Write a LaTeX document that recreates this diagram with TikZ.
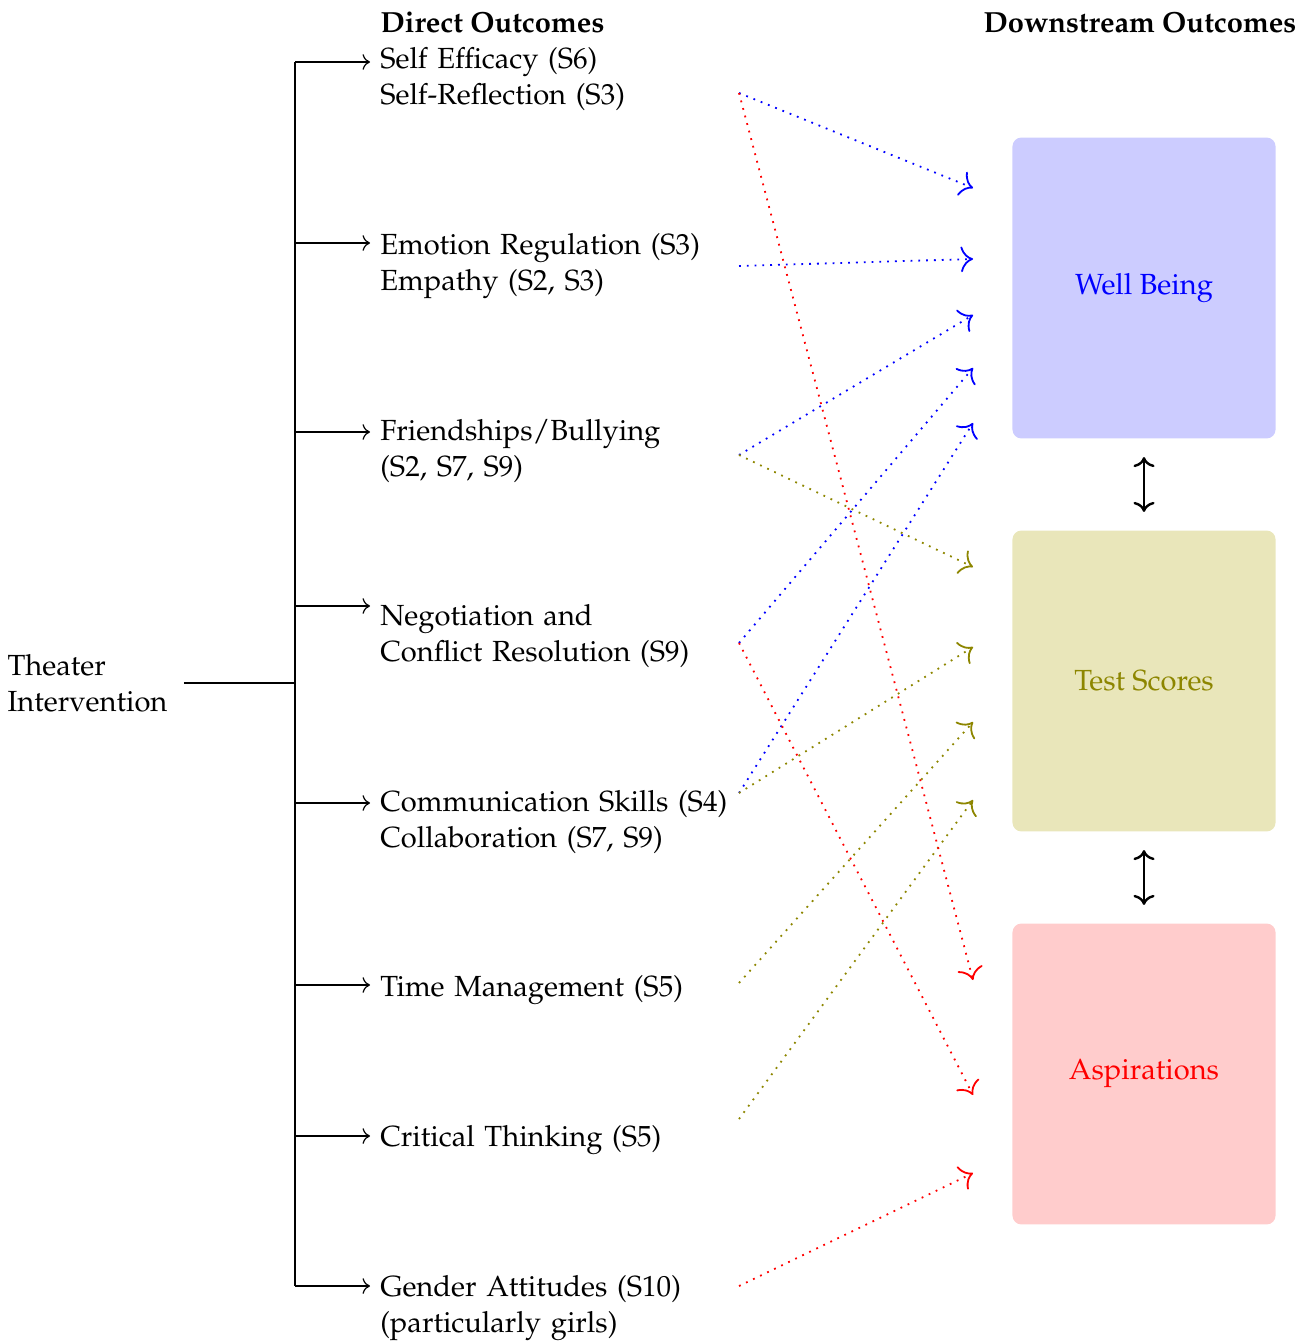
\documentclass[tikz,border=0pt]{standalone}
\usepackage[T1]{fontenc}
\usepackage{mathpazo}
\usepackage[dvipsnames]{xcolor}
\usepackage{tikz}
\usetikzlibrary{arrows.meta}

\begin{document}
\fontsize{9.7}{12}\selectfont
\begin{tikzpicture}[x=0.3333pt, y=-0.3333pt,
    branch/.style={->},
    link/.style={-{To[scale=1.4]}, semithick, dotted},
    outcome/.style={anchor=mid west, align=left, text width=130pt},
    goal/.style={rounded corners=3pt, minimum width=87.7pt, minimum height=100.3pt}]
    \useasboundingbox (0, 0) rectangle (1315, 1342);

    % column headers
    \node[anchor=west, inner xsep=0pt, font=\bfseries] (dhead) at (380, 22) {Direct Outcomes};
    \node[font=\bfseries] (shead) at (1140, 22) {Downstream Outcomes};

    % intervention and trunk
    \node[anchor=west, align=left, outer xsep=2.3pt] (ti) at (-9, 683) {Theater\\Intervention};
    \coordinate (top) at (295, 62);
    \coordinate (bot) at (295, 1286);
    \draw[thick] (ti.east) -- (top |- ti.east);
    \draw[thick] (top) -- (bot);

    % direct outcomes
    \node[outcome] (se) at (370, 62)   {Self Efficacy (S6)\\Self-Reflection (S3)};
    \node[outcome] (er) at (370, 248)  {Emotion Regulation (S3)\\Empathy (S2, S3)};
    \node[outcome] (fb) at (370, 434)  {Friendships/Bullying\\(S2, S7, S9)};
    \node[outcome] (nc) at (370, 619)  {Negotiation and\\Conflict Resolution (S9)};
    \node[outcome] (cs) at (370, 805)  {Communication Skills (S4)\\Collaboration (S7, S9)};
    \node[outcome] (tm) at (370, 990)  {Time Management (S5)};
    \node[outcome] (ct) at (370, 1140) {Critical Thinking (S5)};
    \node[outcome] (ga) at (370, 1290) {Gender Attitudes (S10)\\(particularly girls)};

    % branch ends
    \coordinate (se-in) at (370, 62);
    \coordinate (er-in) at (370, 243);
    \coordinate (fb-in) at (370, 432);
    \coordinate (nc-in) at (370, 606);
    \coordinate (cs-in) at (370, 803);
    \coordinate (tm-in) at (370, 985);
    \coordinate (ct-in) at (370, 1136);
    \coordinate (ga-in) at (370, 1286);

    % branches from trunk
    \draw[branch] (top |- se-in) -- (se-in);
    \draw[branch] (top |- er-in) -- (er-in);
    \draw[branch] (top |- fb-in) -- (fb-in);
    \draw[branch] (top |- nc-in) -- (nc-in);
    \draw[branch] (top |- cs-in) -- (cs-in);
    \draw[branch] (top |- tm-in) -- (tm-in);
    \draw[branch] (top |- ct-in) -- (ct-in);
    \draw[branch] (top |- ga-in) -- (ga-in);

    % downstream outcomes
    \node[goal, fill=blue!20, text=blue] (wb) at (1144, 288) {Well Being};
    \node[goal, fill=olive!20, text=olive] (ts) at (1144, 681) {Test Scores};
    \node[goal, fill=red!20, text=red] (asp) at (1144, 1074) {Aspirations};
    \draw[<->, thick, shorten <=6pt, shorten >=6pt] (wb) -- (ts);
    \draw[<->, thick, shorten <=6pt, shorten >=6pt] (ts) -- (asp);

    % link ends
    \coordinate (se-o) at (739, 93);
    \coordinate (er-o) at (739, 266);
    \coordinate (fb-o) at (739, 455);
    \coordinate (nc-o) at (739, 643);
    \coordinate (cs-o) at (739, 793);
    \coordinate (tm-o) at (739, 983);
    \coordinate (ct-o) at (739, 1119);
    \coordinate (ga-o) at (739, 1286);
    \coordinate (wb-1) at (973, 188);
    \coordinate (wb-2) at (973, 259);
    \coordinate (wb-3) at (973, 315);
    \coordinate (wb-4) at (973, 368);
    \coordinate (wb-5) at (973, 423);
    \coordinate (ts-1) at (973, 567);
    \coordinate (ts-2) at (973, 647);
    \coordinate (ts-3) at (973, 722);
    \coordinate (ts-4) at (973, 800);
    \coordinate (asp-1) at (973, 980);
    \coordinate (asp-2) at (973, 1095);
    \coordinate (asp-3) at (973, 1173);

    % links to well being
    \draw[link, blue] (se-o) -- (wb-1);
    \draw[link, blue] (er-o) -- (wb-2);
    \draw[link, blue] (fb-o) -- (wb-3);
    \draw[link, blue] (nc-o) -- (wb-4);
    \draw[link, blue] (cs-o) -- (wb-5);

    % links to test scores
    \draw[link, olive] (fb-o) -- (ts-1);
    \draw[link, olive] (cs-o) -- (ts-2);
    \draw[link, olive] (tm-o) -- (ts-3);
    \draw[link, olive] (ct-o) -- (ts-4);

    % links to aspirations
    \draw[link, red] (se-o) -- (asp-1);
    \draw[link, red] (nc-o) -- (asp-2);
    \draw[link, red] (ga-o) -- (asp-3);

\end{tikzpicture}
\end{document}
